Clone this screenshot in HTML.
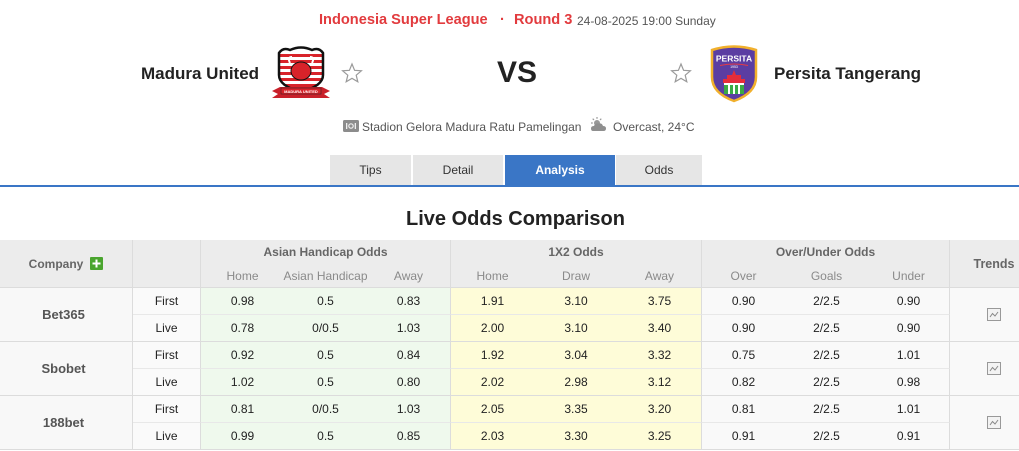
<!DOCTYPE html>
<html><head><meta charset="utf-8">
<style>
html,body{margin:0;padding:0;background:#fff;}
body{width:1019px;height:451px;overflow:hidden;position:relative;font-family:"Liberation Sans",Arial,sans-serif;}
.abs{position:absolute;white-space:nowrap;}
.tab{position:absolute;top:155px;height:30px;background:#e6e6e6;color:#333;font-size:12px;display:flex;align-items:center;justify-content:center;}
.g{position:absolute;left:0;top:240px;width:1038px;display:grid;grid-template-columns:133px 68px 83px 83px 84px 83px 84px 84px 83px 83px 82px 88px;grid-template-rows:24px 24px repeat(6,27px);font-size:12px;color:#222;}
.g>div{display:flex;align-items:center;justify-content:center;box-sizing:border-box;white-space:nowrap;}
.h{background:#ececec;color:#666;font-weight:bold;}
.hb{border-bottom:1px solid #dcdcdc;}
.sh{background:#ececec;color:#8a8a8a;border-bottom:1px solid #dcdcdc;}
.br{border-right:1px solid #dcdcdc;}
.c{background:#f8f8f8;color:#555;font-weight:bold;font-size:13px;border-right:1px solid #dcdcdc;border-bottom:1px solid #dcdcdc;padding-right:5px;}
.t{background:#fafafa;border-right:1px solid #dcdcdc;}
.a{background:#eff9ed;}
.x{background:#fefcd8;}
.o{background:#f9f9f9;}
.tr{background:#f9f9f9;border-bottom:1px solid #dcdcdc;}
.r1{border-bottom:1px solid #e8e8e8;}
.r2{border-bottom:1px solid #dcdcdc;}
</style></head>
<body>

<!-- title line -->
<div class="abs" style="left:319px;top:11px;font-size:14.6px;line-height:18px;font-weight:bold;color:#e23b3e;">Indonesia Super League</div>
<div class="abs" style="left:500px;top:11px;font-size:14.6px;line-height:18px;font-weight:bold;color:#e23b3e;">·</div>
<div class="abs" style="left:514px;top:11px;font-size:14.6px;line-height:18px;font-weight:bold;color:#e23b3e;">Round 3</div>
<div class="abs" style="left:577px;top:13px;font-size:12px;line-height:16px;color:#555;">24-08-2025 19:00 Sunday</div>

<!-- teams -->
<div class="abs" style="left:141px;top:64px;font-size:17px;line-height:20px;font-weight:bold;color:#222;">Madura United</div>
<div class="abs" style="left:497px;top:56px;font-size:30px;line-height:34px;font-weight:bold;color:#222;">VS</div>
<div class="abs" style="left:774px;top:64px;font-size:17px;line-height:20px;font-weight:bold;color:#222;">Persita Tangerang</div>

<!-- Madura logo -->
<svg class="abs" style="left:270px;top:45px;" width="62" height="56" viewBox="0 0 62 56">
  <defs><clipPath id="cp1"><path d="M9,8 Q13,2 20,5 Q31,0 42,5 Q49,2 53,8 L53,30 Q53,41 31,47 Q9,41 9,30 Z"/></clipPath></defs>
  <path d="M9,8 Q13,2 20,5 Q31,0 42,5 Q49,2 53,8 L53,30 Q53,41 31,47 Q9,41 9,30 Z" fill="#fff"/>
  <g clip-path="url(#cp1)" fill="#d8232a">
    <rect x="0" y="9" width="62" height="3"/>
    <rect x="0" y="15" width="62" height="3"/>
    <rect x="0" y="21" width="62" height="3"/>
    <rect x="0" y="27" width="62" height="3"/>
    <rect x="0" y="33" width="62" height="3"/>
    <rect x="0" y="39" width="62" height="3"/>
  </g>
  <path d="M9,8 Q13,2 20,5 Q31,0 42,5 Q49,2 53,8 L53,30 Q53,41 31,47 Q9,41 9,30 Z" fill="none" stroke="#111" stroke-width="2.5"/>
  <ellipse cx="31" cy="26" rx="10" ry="9" fill="#d8232a" stroke="#111" stroke-width="1"/>
  <path d="M20,18 Q17,12 22,12 M42,18 Q45,12 40,12" stroke="#fff" stroke-width="2" fill="none"/>
  <path d="M2,46 L10,42 L52,42 L60,46 L54,49 L60,53 L2,53 L8,49 Z" fill="#c9202a"/>
  <rect x="11" y="43" width="40" height="6" fill="#d8232a" stroke="#222" stroke-width="0.5"/>
  <text x="31" y="47.8" font-size="4" font-family="Liberation Sans" font-weight="bold" fill="#fff" text-anchor="middle">MADURA UNITED</text>
</svg>

<!-- stars -->
<svg class="abs" style="left:341px;top:62px;" width="22" height="22" viewBox="0 0 22 22">
  <path d="M11,2 L13.6,8.3 L20.4,8.8 L15.2,13.2 L16.8,19.8 L11,16.3 L5.2,19.8 L6.8,13.2 L1.6,8.8 L8.4,8.3 Z" fill="#fff" stroke="#9a9a9a" stroke-width="1.2"/>
</svg>
<svg class="abs" style="left:670px;top:62px;" width="22" height="22" viewBox="0 0 22 22">
  <path d="M11,2 L13.6,8.3 L20.4,8.8 L15.2,13.2 L16.8,19.8 L11,16.3 L5.2,19.8 L6.8,13.2 L1.6,8.8 L8.4,8.3 Z" fill="#fff" stroke="#9a9a9a" stroke-width="1.2"/>
</svg>

<!-- Persita logo -->
<svg class="abs" style="left:708px;top:43px;" width="52" height="60" viewBox="0 0 52 60">
  <path d="M4,7 Q26,0 48,7 L48,34 Q48,50 26,58 Q4,50 4,34 Z" fill="#5b3da2" stroke="#f1b02c" stroke-width="2.5"/>
  <text x="26" y="18.5" font-size="8.5" font-family="Liberation Sans" font-weight="bold" fill="#fff" text-anchor="middle">PERSITA</text>
  <text x="26" y="25" font-size="3.5" font-family="Liberation Sans" fill="#fff" text-anchor="middle">1953</text>
  <path d="M12,22.5 Q26,19.5 40,22.5" stroke="#e43a46" stroke-width="1" fill="none"/>
  <path d="M24,32 L26,27 L28,32 Z" fill="#e52d3a"/>
  <rect x="19" y="32" width="14" height="4" fill="#e52d3a"/>
  <rect x="15" y="36" width="22" height="4" fill="#e52d3a"/>
  <rect x="16" y="40" width="20" height="2" fill="#fff"/>
  <rect x="16" y="42" width="20" height="9" fill="#3aaa45"/>
  <rect x="20" y="42" width="2" height="9" fill="#fff"/>
  <rect x="25" y="42" width="2" height="9" fill="#fff"/>
  <rect x="30" y="42" width="2" height="9" fill="#fff"/>
</svg>

<!-- venue line -->
<svg class="abs" style="left:343px;top:120px;" width="16" height="13" viewBox="0 0 16 13">
  <rect x="0" y="0" width="16" height="12" rx="1.5" fill="#8c8c8c"/>
  <rect x="3" y="3" width="1.3" height="6" fill="#eee"/>
  <rect x="11.7" y="3" width="1.3" height="6" fill="#eee"/>
  <circle cx="8" cy="6" r="2.2" fill="none" stroke="#eee" stroke-width="1.2"/>
</svg>
<div class="abs" style="left:362px;top:119px;font-size:12px;line-height:16px;color:#555;">Stadion Gelora Madura Ratu Pamelingan</div>
<svg class="abs" style="left:590px;top:117px;" width="17" height="15" viewBox="0 0 17 15">
  <circle cx="7" cy="6" r="3" fill="#999"/>
  <g stroke="#999" stroke-width="1.2"><line x1="7" y1="0" x2="7" y2="1.8"/><line x1="1" y1="6" x2="2.8" y2="6"/><line x1="2.7" y1="1.7" x2="4" y2="3"/><line x1="11.3" y1="1.7" x2="10" y2="3"/></g>
  <path d="M3,14 Q1,14 1,11.5 Q1,9 4,9 Q5,6 9,6.5 Q12,6 13,9 Q16,9 16,11.5 Q16,14 13.5,14 Z" fill="#8f8f8f"/>
</svg>
<div class="abs" style="left:613px;top:119px;font-size:12px;line-height:16px;color:#555;">Overcast, 24°C</div>

<!-- tabs -->
<div class="tab" style="left:330px;width:81px;">Tips</div>
<div class="tab" style="left:413px;width:90px;">Detail</div>
<div class="tab" style="left:505px;width:110px;background:#3a76c6;color:#fff;font-weight:bold;">Analysis</div>
<div class="tab" style="left:616px;width:86px;">Odds</div>
<div class="abs" style="left:0;top:185px;width:1019px;height:2px;background:#3a76c6;"></div>

<div class="abs" style="left:406px;top:207px;font-size:20px;line-height:24px;font-weight:bold;color:#222;">Live Odds Comparison</div>

<!-- table -->
<div class="g">
  <div class="h br hb" style="grid-row:span 2;">Company<svg style="margin-left:7px" width="13" height="13" viewBox="0 0 13 13"><rect width="13" height="13" rx="1" fill="#4aa52e"/><rect x="5.5" y="2.5" width="2" height="8" fill="#fff"/><rect x="2.5" y="5.5" width="8" height="2" fill="#fff"/></svg></div>
  <div class="h br hb" style="grid-row:span 2;"></div>
  <div class="h br" style="grid-column:span 3;">Asian Handicap Odds</div>
  <div class="h br" style="grid-column:span 3;">1X2 Odds</div>
  <div class="h br" style="grid-column:span 3;">Over/Under Odds</div>
  <div class="h hb" style="grid-row:span 2;font-size:12.5px;">Trends</div>
  <div class="sh">Home</div><div class="sh">Asian Handicap</div><div class="sh br">Away</div>
  <div class="sh">Home</div><div class="sh">Draw</div><div class="sh br">Away</div>
  <div class="sh">Over</div><div class="sh">Goals</div><div class="sh br">Under</div>

  <!-- Bet365 -->
  <div class="c" style="grid-row:span 2;">Bet365</div>
  <div class="t r1">First</div>
  <div class="a r1">0.98</div><div class="a r1">0.5</div><div class="a r1 br">0.83</div>
  <div class="x r1">1.91</div><div class="x r1">3.10</div><div class="x r1 br">3.75</div>
  <div class="o r1">0.90</div><div class="o r1">2/2.5</div><div class="o r1 br">0.90</div>
  <div class="tr" style="grid-row:span 2;"><svg width="14" height="13" viewBox="0 0 14 13"><rect x="0.5" y="0.5" width="13" height="12" fill="#f3f3f3" stroke="#999"/><polyline points="3,9 5.5,5.5 8,8 11,4" fill="none" stroke="#888" stroke-width="1"/></svg></div>
  <div class="t r2">Live</div>
  <div class="a r2">0.78</div><div class="a r2">0/0.5</div><div class="a r2 br">1.03</div>
  <div class="x r2">2.00</div><div class="x r2">3.10</div><div class="x r2 br">3.40</div>
  <div class="o r2">0.90</div><div class="o r2">2/2.5</div><div class="o r2 br">0.90</div>

  <!-- Sbobet -->
  <div class="c" style="grid-row:span 2;">Sbobet</div>
  <div class="t r1">First</div>
  <div class="a r1">0.92</div><div class="a r1">0.5</div><div class="a r1 br">0.84</div>
  <div class="x r1">1.92</div><div class="x r1">3.04</div><div class="x r1 br">3.32</div>
  <div class="o r1">0.75</div><div class="o r1">2/2.5</div><div class="o r1 br">1.01</div>
  <div class="tr" style="grid-row:span 2;"><svg width="14" height="13" viewBox="0 0 14 13"><rect x="0.5" y="0.5" width="13" height="12" fill="#f3f3f3" stroke="#999"/><polyline points="3,9 5.5,5.5 8,8 11,4" fill="none" stroke="#888" stroke-width="1"/></svg></div>
  <div class="t r2">Live</div>
  <div class="a r2">1.02</div><div class="a r2">0.5</div><div class="a r2 br">0.80</div>
  <div class="x r2">2.02</div><div class="x r2">2.98</div><div class="x r2 br">3.12</div>
  <div class="o r2">0.82</div><div class="o r2">2/2.5</div><div class="o r2 br">0.98</div>

  <!-- 188bet -->
  <div class="c" style="grid-row:span 2;">188bet</div>
  <div class="t r1">First</div>
  <div class="a r1">0.81</div><div class="a r1">0/0.5</div><div class="a r1 br">1.03</div>
  <div class="x r1">2.05</div><div class="x r1">3.35</div><div class="x r1 br">3.20</div>
  <div class="o r1">0.81</div><div class="o r1">2/2.5</div><div class="o r1 br">1.01</div>
  <div class="tr" style="grid-row:span 2;"><svg width="14" height="13" viewBox="0 0 14 13"><rect x="0.5" y="0.5" width="13" height="12" fill="#f3f3f3" stroke="#999"/><polyline points="3,9 5.5,5.5 8,8 11,4" fill="none" stroke="#888" stroke-width="1"/></svg></div>
  <div class="t r2">Live</div>
  <div class="a r2">0.99</div><div class="a r2">0.5</div><div class="a r2 br">0.85</div>
  <div class="x r2">2.03</div><div class="x r2">3.30</div><div class="x r2 br">3.25</div>
  <div class="o r2">0.91</div><div class="o r2">2/2.5</div><div class="o r2 br">0.91</div>
</div>

</body></html>
